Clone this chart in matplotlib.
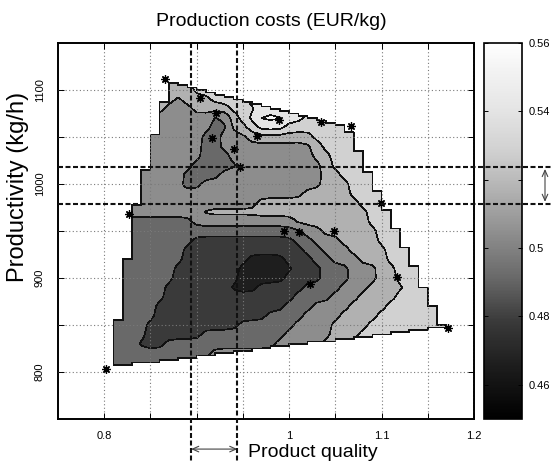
import numpy as np
import matplotlib
matplotlib.use("Agg")
import matplotlib.pyplot as plt
import matplotlib.tri as mtri
from matplotlib.colors import Normalize, LinearSegmentedColormap
from matplotlib.cm import ScalarMappable
from matplotlib.lines import Line2D
from matplotlib.transforms import blended_transform_factory

plt.rcParams["font.family"] = ["Liberation Sans", "DejaVu Sans"]

# experiments (asterisks): product quality / productivity (kg/h)
star_q = [0.866, 0.904, 0.921, 0.917, 0.940, 0.965, 0.947, 0.989, 1.034, 1.067,
          1.099, 0.995, 1.011, 1.049, 1.023, 1.117, 1.172, 0.827, 0.802]
star_p = [1112, 1092, 1075, 1049, 1037, 1051, 1018, 1068, 1066, 1062,
          980, 950, 949, 950, 894, 901, 847, 968, 803]

# cost band (1 = cheapest ... 8 = dearest), one row per
# productivity value, runs "band x count" along quality 0.79, 0.80 ... 1.18
grid_q = np.round(0.79 + 0.01 * np.arange(40), 2)
grid_p = np.arange(1120, 789, -10)
band_rows = [
    "5x11 6x3 7x26",                        # 1120
    "5x11 6x3 7x26",                        # 1110
    "5x11 6x3 7x26",                        # 1100
    "5x9 4x1 5x3 6x4 7x23",                 # 1090
    "5x8 4x3 5x4 6x3 7x22",                 # 1080
    "4x13 3x2 5x1 6x1 7x1 8x3 7x2 6x17",    # 1070
    "4x13 3x2 5x2 6x1 7x3 6x19",            # 1060
    "4x12 3x2 4x3 5x7 6x16",                # 1050
    "4x12 3x2 4x10 5x1 6x15",               # 1040
    "4x12 3x3 4x9 5x2 6x14",                # 1030
    "4x11 3x5 4x9 5x1 6x14",                # 1020
    "4x10 3x4 4x11 5x2 6x13",               # 1010
    "4x10 3x2 4x13 5x3 6x12",               # 1000
    "4x9 3x1 4x13 5x5 6x12",                # 990
    "4x18 5x11 6x11",                       # 980
    "4x12 5x18 6x10",                       # 970
    "3x11 4x11 5x8 6x10",                   # 960
    "3x23 4x2 5x6 6x9",                     # 950
    "3x11 2x11 3x2 4x3 5x4 6x9",            # 940
    "3x10 2x13 3x2 4x3 5x4 6x8",            # 930
    "3x10 2x7 1x4 2x3 3x2 4x3 5x3 6x8",     # 920
    "3x9 2x7 1x6 2x3 3x3 4x3 5x2 6x7",      # 910
    "3x9 2x7 1x5 2x4 3x3 4x3 5x2 6x7",      # 900
    "3x8 2x7 1x3 2x5 3x4 4x3 5x4 6x6",      # 890
    "3x8 2x14 3x4 4x3 5x4 6x7",             # 880
    "3x7 2x14 3x3 4x4 5x4 6x8",             # 870
    "3x7 2x12 3x4 4x4 5x4 6x9",             # 860
    "3x6 2x10 3x6 4x4 5x4 6x10",            # 850
    "3x6 2x6 3x9 4x5 5x3 6x11",             # 840
    "3x5 2x3 3x12 4x5 5x3 6x12",            # 830
    "3x13 4x11 5x4 6x12",                   # 820
    "3x9 4x14 5x4 6x13",                    # 810
    "3x9 4x14 5x4 6x13",                    # 800
    "3x9 4x14 5x4 6x13",                    # 790
]
levels = np.linspace(0.46, 0.56, 9)

# selected operating window (dashed lines)
sel_q = [0.894, 0.944]
sel_p = [979, 1018]

cbar_ticks = [0.46, 0.48, 0.50, 0.52, 0.54, 0.56]
cbar_labels = ["0.46", "0.48", "0.5", "", "0.54", "0.56"]
xtick_vals = np.round(np.arange(0.8, 1.201, 0.05), 2)
xtick_text = ["0.8", "", "", "", "1", "", "1.1", "", "1.2"]
ytick_vals = np.arange(800, 1101, 50)
ytick_text = ["800", "", "900", "", "1000", "", "1100"]

# grey ramp as it appears in the print (position, grey level)
grey_pts = [(0.0, 0.0), (0.148, 0.12), (0.261, 0.23), (0.375, 0.41),
            (0.489, 0.55), (0.602, 0.69), (0.716, 0.82), (0.83, 0.90),
            (0.943, 0.96), (1.0, 1.0)]


def decode(row):
    out = []
    for tok in row.split():
        b, n = tok.split("x")
        out += [int(b)] * int(n)
    assert len(out) == len(grid_q), row
    return out


def soften(a):
    """light 1-4-1 smoothing along both axes (edges repeated)"""
    for axis in (0, 1):
        p = np.pad(a, [(1, 1) if k == axis else (0, 0) for k in (0, 1)], mode="edge")
        if axis == 0:
            a = (p[:-2] + 4 * p[1:-1] + p[2:]) / 6
        else:
            a = (p[:, :-2] + 4 * p[:, 1:-1] + p[:, 2:]) / 6
    return a


def band_field(qf, pf):
    """bilinear interpolation of the band map onto a fine grid"""
    band = soften(np.array([decode(r) for r in band_rows], float))
    zc = (0.46 + 0.0125 * (band - 0.5))[::-1]
    pa = grid_p[::-1]
    Q, P = np.meshgrid(qf, pf)
    fi = np.clip((Q - grid_q[0]) / 0.01, 0, len(grid_q) - 1.0001)
    fj = np.clip((P - pa[0]) / 10.0, 0, len(pa) - 1.0001)
    i0 = fi.astype(int)
    j0 = fj.astype(int)
    tx = fi - i0
    ty = fj - j0
    z = (zc[j0, i0] * (1 - tx) * (1 - ty) + zc[j0, i0 + 1] * tx * (1 - ty)
         + zc[j0 + 1, i0] * (1 - tx) * ty + zc[j0 + 1, i0 + 1] * tx * ty)
    return Q, P, z


W, H = 551, 461
fig = plt.figure(figsize=(W / 100, H / 100), dpi=100)
ax = fig.add_axes([58 / W, 1 - 419 / H, 416 / W, 376 / H])
cax = fig.add_axes([484 / W, 1 - 419 / H, 38 / W, 376 / H])

cmap = LinearSegmentedColormap(
    "print_grey", {c: [(t, v, v) for t, v in grey_pts] for c in ("red", "green", "blue")})
norm = Normalize(0.45, 0.56)

qf = np.arange(0.80, 1.1801, 0.01)
pf = np.arange(800, 1115.1, 2.5)
Q, P, Z = band_field(qf, pf)

# only inside the hull of the experiments
hull = mtri.Triangulation(np.array(star_q) * 1000, np.array(star_p, float))
inside = hull.get_trifinder()(Q * 1000, P) >= 0
Z = np.ma.masked_where(~inside, Z)

cs = ax.contourf(Q, P, Z, levels=levels, cmap=cmap, norm=norm,
                 corner_mask=False, zorder=1)
cs.set_edgecolor("#111111")
cs.set_linewidth(0.45)

ax.plot(star_q, star_p, ls="none", marker=(8, 2, 0), ms=6, mew=0.9,
        color="k", zorder=5)

ax.set_xlim(0.75, 1.2)
ax.set_ylim(750, 1150)
ax.set_xticks(xtick_vals)
ax.set_xticklabels(xtick_text, fontsize=8)
ax.set_yticks(ytick_vals)
ax.set_yticklabels(ytick_text, fontsize=8, rotation=90, va="center")
ax.tick_params(direction="in", top=True, right=True, length=4, width=0.7)
ax.tick_params(axis="x", pad=8.5)
ax.tick_params(axis="y", pad=9.5)
ax.grid(True, color="#7a7a7a", lw=0.8, ls=(0, (1, 2.2)))
ax.set_axisbelow(False)
for s in ax.spines.values():
    s.set_linewidth(1.4)

# dashed selection window
for q in sel_q:
    ax.plot([q, q], [1150, 700], color="#111111", lw=1.5,
            ls=(0, (2.4, 1.2)), clip_on=False, zorder=6)
ytr = blended_transform_factory(fig.transFigure, ax.transData)
for p in sel_p:
    fig.add_artist(Line2D([58 / W, 1.0], [p, p], transform=ytr, color="#111111",
                          lw=1.5, ls=(0, (2.4, 1.2))))

arrow = dict(arrowstyle="<->,head_length=0.45,head_width=0.2", color="#444444",
             lw=0.8, shrinkA=0, shrinkB=0)
ax.annotate("", xy=(sel_q[1], 718), xytext=(sel_q[0], 718), arrowprops=arrow,
            annotation_clip=False)
ax.annotate("", xy=(545 / W, sel_p[0] + 2), xytext=(545 / W, sel_p[1] - 2),
            xycoords=ytr, textcoords=ytr, arrowprops=arrow, annotation_clip=False)

# colorbar
cb = fig.colorbar(ScalarMappable(norm=norm, cmap=cmap), cax=cax)
cb.set_ticks(cbar_ticks)
cb.set_ticklabels(cbar_labels)
cax.tick_params(direction="in", left=True, right=True, length=3, width=0.7,
                labelsize=8, pad=5)
cb.outline.set_linewidth(1.2)

fig.text(271 / W, 1 - 21 / H, "Production costs (EUR/kg)", fontsize=14,
         ha="center", va="center")
fig.text(313 / W, 1 - 457 / H, "Product quality", fontsize=14,
         ha="center", va="baseline")
fig.text(18 / W, 1 - 187 / H, "Productivity (kg/h)", fontsize=17,
         rotation=90, ha="center", va="center")

fig.savefig("out.png", dpi=100)
